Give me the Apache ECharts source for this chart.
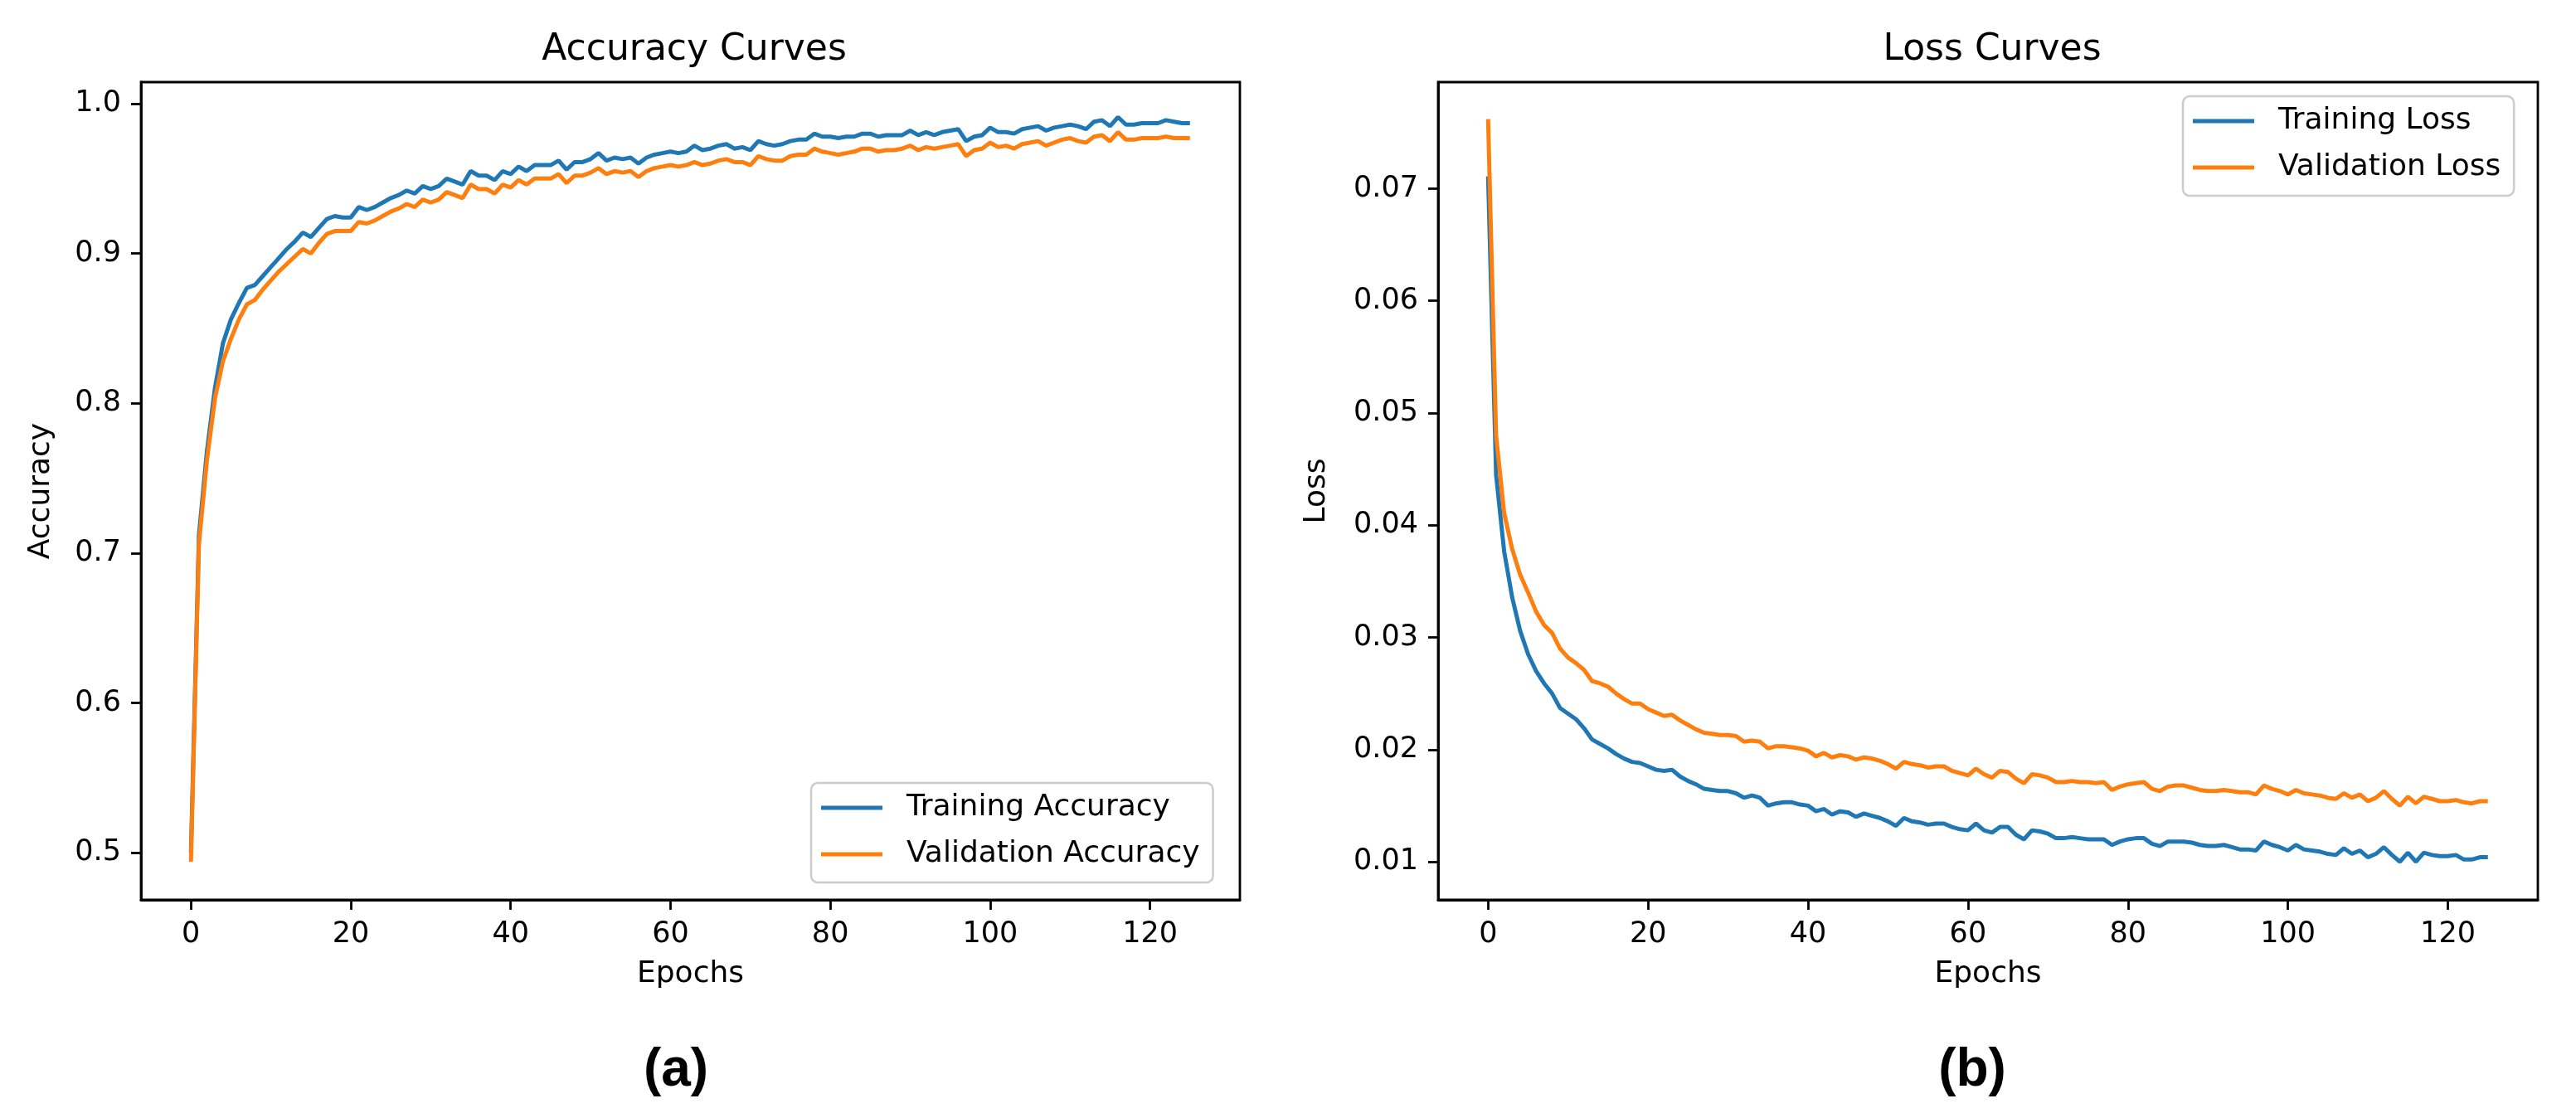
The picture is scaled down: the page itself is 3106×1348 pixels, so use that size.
<!DOCTYPE html>
<html>
<head>
<meta charset="utf-8">
<title>Accuracy and Loss Curves</title>
<script src="https://cdn.jsdelivr.net/npm/echarts@6/dist/echarts.min.js"></script>
<style>
    html, body { margin: 0; padding: 0; background: #fff; }
    #chart { width: 3106px; height: 1348px; }
</style>
</head>
<body>
<div id="chart"></div>
<script>
// values, one per epoch (0..125)
var trainAcc = [
    0.500, 0.712, 0.768, 0.810, 0.840, 0.856, 0.867, 0.877, 0.879, 0.885,
    0.891, 0.897, 0.903, 0.908, 0.914, 0.911, 0.917, 0.923, 0.925, 0.924,
    0.924, 0.931, 0.929, 0.931, 0.934, 0.937, 0.939, 0.942, 0.940, 0.945,
    0.943, 0.945, 0.950, 0.948, 0.946, 0.955, 0.952, 0.952, 0.949, 0.955,
    0.953, 0.958, 0.955, 0.959, 0.959, 0.959, 0.962, 0.956, 0.961, 0.961,
    0.963, 0.967, 0.962, 0.964, 0.963, 0.964, 0.960, 0.964, 0.966, 0.967,
    0.968, 0.967, 0.968, 0.972, 0.969, 0.970, 0.972, 0.973, 0.970, 0.971,
    0.969, 0.975, 0.973, 0.972, 0.973, 0.975, 0.976, 0.976, 0.980, 0.978,
    0.978, 0.977, 0.978, 0.978, 0.980, 0.980, 0.978, 0.979, 0.979, 0.979,
    0.982, 0.979, 0.981, 0.979, 0.981, 0.982, 0.983, 0.975, 0.978, 0.979,
    0.984, 0.981, 0.981, 0.980, 0.983, 0.984, 0.985, 0.982, 0.984, 0.985,
    0.986, 0.985, 0.983, 0.988, 0.989, 0.985, 0.991, 0.986, 0.986, 0.987,
    0.987, 0.987, 0.989, 0.988, 0.987, 0.987
];
var valAcc = [
    0.494, 0.706, 0.762, 0.803, 0.828, 0.843, 0.856, 0.866, 0.869, 0.876,
    0.882, 0.888, 0.893, 0.898, 0.903, 0.900, 0.907, 0.913, 0.915, 0.915,
    0.915, 0.921, 0.920, 0.922, 0.925, 0.928, 0.930, 0.933, 0.931, 0.936,
    0.934, 0.936, 0.941, 0.939, 0.937, 0.946, 0.943, 0.943, 0.940, 0.946,
    0.944, 0.949, 0.946, 0.950, 0.950, 0.950, 0.953, 0.947, 0.952, 0.952,
    0.954, 0.957, 0.953, 0.955, 0.954, 0.955, 0.951, 0.955, 0.957, 0.958,
    0.959, 0.958, 0.959, 0.961, 0.959, 0.960, 0.962, 0.963, 0.961, 0.961,
    0.959, 0.965, 0.963, 0.962, 0.962, 0.965, 0.966, 0.966, 0.970, 0.968,
    0.967, 0.966, 0.967, 0.968, 0.970, 0.970, 0.968, 0.969, 0.969, 0.970,
    0.972, 0.969, 0.971, 0.970, 0.971, 0.972, 0.973, 0.965, 0.969, 0.970,
    0.974, 0.971, 0.972, 0.970, 0.973, 0.974, 0.975, 0.972, 0.974, 0.976,
    0.977, 0.975, 0.974, 0.978, 0.979, 0.975, 0.981, 0.976, 0.976, 0.977,
    0.977, 0.977, 0.978, 0.977, 0.977, 0.977
];
var trainLoss = [
    0.0711, 0.0445, 0.0377, 0.0336, 0.0306, 0.0285, 0.0270, 0.0259, 0.0250, 0.0237,
    0.0232, 0.0227, 0.0219, 0.0209, 0.0205, 0.0201, 0.0196, 0.0192, 0.0189, 0.0188,
    0.0185, 0.0182, 0.0181, 0.0182, 0.0176, 0.0172, 0.0169, 0.0165, 0.0164, 0.0163,
    0.0163, 0.0161, 0.0157, 0.0159, 0.0157, 0.0150, 0.0152, 0.0153, 0.0153, 0.0151,
    0.0150, 0.0145, 0.0147, 0.0142, 0.0145, 0.0144, 0.0140, 0.0143, 0.0141, 0.0139,
    0.0136, 0.0132, 0.0139, 0.0136, 0.0135, 0.0133, 0.0134, 0.0134, 0.0131, 0.0129,
    0.0128, 0.0134, 0.0128, 0.0126, 0.0131, 0.0131, 0.0124, 0.0120, 0.0128, 0.0127,
    0.0125, 0.0121, 0.0121, 0.0122, 0.0121, 0.0120, 0.0120, 0.0120, 0.0115, 0.0118,
    0.0120, 0.0121, 0.0121, 0.0116, 0.0114, 0.0118, 0.0118, 0.0118, 0.0117, 0.0115,
    0.0114, 0.0114, 0.0115, 0.0113, 0.0111, 0.0111, 0.0110, 0.0118, 0.0115, 0.0113,
    0.0110, 0.0115, 0.0111, 0.0110, 0.0109, 0.0107, 0.0106, 0.0112, 0.0107, 0.0110,
    0.0104, 0.0107, 0.0113, 0.0106, 0.0100, 0.0108, 0.0100, 0.0108, 0.0106, 0.0105,
    0.0105, 0.0106, 0.0102, 0.0102, 0.0104, 0.0104
];
var valLoss = [
    0.0762, 0.0480, 0.0411, 0.0379, 0.0356, 0.0340, 0.0323, 0.0311, 0.0304, 0.0290,
    0.0282, 0.0277, 0.0271, 0.0261, 0.0259, 0.0256, 0.0250, 0.0245, 0.0241, 0.0241,
    0.0236, 0.0233, 0.0230, 0.0231, 0.0226, 0.0222, 0.0218, 0.0215, 0.0214, 0.0213,
    0.0213, 0.0212, 0.0207, 0.0208, 0.0207, 0.0201, 0.0203, 0.0203, 0.0202, 0.0201,
    0.0199, 0.0194, 0.0197, 0.0193, 0.0195, 0.0194, 0.0191, 0.0193, 0.0192, 0.0190,
    0.0187, 0.0183, 0.0189, 0.0187, 0.0186, 0.0184, 0.0185, 0.0185, 0.0181, 0.0179,
    0.0177, 0.0183, 0.0178, 0.0175, 0.0181, 0.0180, 0.0174, 0.0170, 0.0178, 0.0177,
    0.0175, 0.0171, 0.0171, 0.0172, 0.0171, 0.0171, 0.0170, 0.0171, 0.0164, 0.0167,
    0.0169, 0.0170, 0.0171, 0.0165, 0.0163, 0.0167, 0.0168, 0.0168, 0.0166, 0.0164,
    0.0163, 0.0163, 0.0164, 0.0163, 0.0162, 0.0162, 0.0160, 0.0168, 0.0165, 0.0163,
    0.0160, 0.0164, 0.0161, 0.0160, 0.0159, 0.0157, 0.0156, 0.0161, 0.0157, 0.0160,
    0.0154, 0.0157, 0.0163, 0.0156, 0.0150, 0.0158, 0.0152, 0.0158, 0.0156, 0.0154,
    0.0154, 0.0155, 0.0153, 0.0152, 0.0154, 0.0154
];
var epochTicks = [0, 20, 40, 60, 80, 100, 120];
var accTicks = [0.5, 0.6, 0.7, 0.8, 0.9, 1.0];
var lossTicks = [0.01, 0.02, 0.03, 0.04, 0.05, 0.06, 0.07];

(function () {

    'use strict';

    var FONT = 'DejaVu Sans',
        BLUE = '#1f77b4',
        ORANGE = '#ff7f0e',
        chart = echarts.init(document.getElementById('chart'));

    // [epoch, value] pairs for a value x axis
    function toPairs(arr) {
        return arr.map(function (v, i) { return [i, v]; });
    }

    var axisLine = { show: true, onZero: false, lineStyle: { color: '#000', width: 2.8 } };

    function xAxis(gridIndex) {
        return {
            type: 'value', gridIndex: gridIndex,
            min: -6.25, max: 131.25,
            name: 'Epochs', nameLocation: 'middle', nameGap: 72,
            nameTextStyle: { fontFamily: FONT, fontSize: 36, color: '#000' },
            axisLine: axisLine,
            axisTick: { show: true, length: 12, lineStyle: { color: '#000', width: 2.8 }, customValues: epochTicks },
            axisLabel: { fontFamily: FONT, fontSize: 35, color: '#000', margin: 24, customValues: epochTicks },
            splitLine: { show: false }
        };
    }

    function yAxis(gridIndex, name, min, max, ticks, digits, gap) {
        return {
            type: 'value', gridIndex: gridIndex,
            min: min, max: max,
            name: name, nameLocation: 'middle', nameGap: gap,
            nameTextStyle: { fontFamily: FONT, fontSize: 36, color: '#000' },
            axisLine: axisLine,
            axisTick: { show: true, length: 12, lineStyle: { color: '#000', width: 2.8 }, customValues: ticks },
            axisLabel: {
                fontFamily: FONT, fontSize: 35, color: '#000', margin: 24, customValues: ticks,
                formatter: function (v) { return v.toFixed(digits); }
            },
            splitLine: { show: false }
        };
    }

    function line(name, data, color, gridIndex) {
        return {
            name: name, type: 'line', data: toPairs(data),
            xAxisIndex: gridIndex, yAxisIndex: gridIndex,
            showSymbol: false, symbol: 'none', smooth: false,
            lineStyle: { color: color, width: 5 },
            itemStyle: { color: color },
            emphasis: { disabled: true }
        };
    }

    function legend(names, left, top) {
        return {
            data: names.map(function (n) { return { name: n, icon: 'rect' }; }),
            orient: 'vertical', left: left, top: top,
            itemWidth: 74, itemHeight: 5, itemGap: 16,
            padding: [10, 16, 14, 12],
            backgroundColor: 'rgba(255,255,255,0.8)',
            borderColor: '#cccccc', borderWidth: 2.5, borderRadius: 8,
            textStyle: { fontFamily: FONT, fontSize: 36, color: '#000', lineHeight: 40, padding: [0, 0, 0, 24] },
            selectedMode: false
        };
    }

    var gridStyle = { show: true, borderColor: '#000', borderWidth: 2.8, backgroundColor: 'transparent' };

    var option = {
        animation: false,
        backgroundColor: '#fff',
        title: [
            { text: 'Accuracy Curves', left: 832, top: 34, textAlign: 'center',
              textStyle: { fontFamily: FONT, fontSize: 44, fontWeight: 'normal', color: '#000' } },
            { text: 'Loss Curves', left: 2397, top: 34, textAlign: 'center',
              textStyle: { fontFamily: FONT, fontSize: 44, fontWeight: 'normal', color: '#000' } },
            { text: '(a)', left: 810, top: 1254, textAlign: 'center',
              textStyle: { fontFamily: 'Liberation Sans', fontSize: 64, fontWeight: 'bold', color: '#000' } },
            { text: '(b)', left: 2373, top: 1254, textAlign: 'center',
              textStyle: { fontFamily: 'Liberation Sans', fontSize: 64, fontWeight: 'bold', color: '#000' } }
        ],
        grid: [
            echarts.util.extend({ left: 170, top: 99, width: 1325, height: 986 }, gridStyle),
            echarts.util.extend({ left: 1734, top: 99, width: 1326, height: 986 }, gridStyle)
        ],
        legend: [
            legend(['Training Accuracy', 'Validation Accuracy'], 978, 944),
            legend(['Training Loss', 'Validation Loss'], 2632, 116)
        ],
        xAxis: [xAxis(0), xAxis(1)],
        yAxis: [
            yAxis(0, 'Accuracy', 0.4685, 1.0144, accTicks, 1, 102),
            yAxis(1, 'Loss', 0.0066, 0.0795, lossTicks, 2, 128)
        ],
        series: [
            line('Training Accuracy', trainAcc, BLUE, 0),
            line('Validation Accuracy', valAcc, ORANGE, 0),
            line('Training Loss', trainLoss, BLUE, 1),
            line('Validation Loss', valLoss, ORANGE, 1)
        ]
    };

    chart.setOption(option);
})();
</script>
</body>
</html>
